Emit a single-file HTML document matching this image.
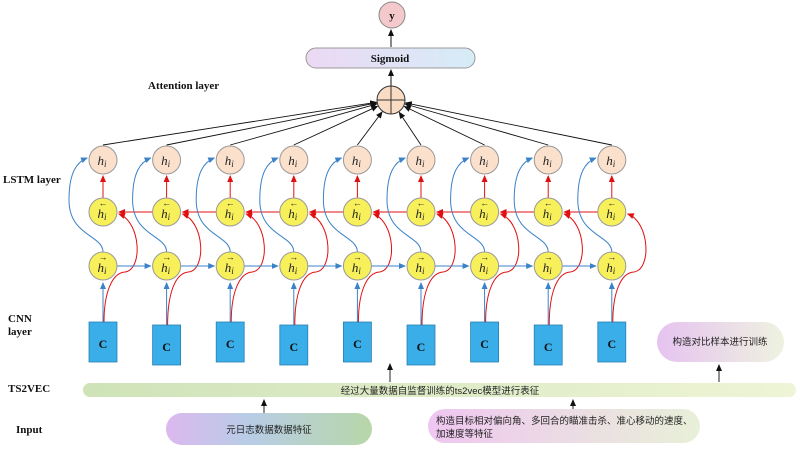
<!DOCTYPE html>
<html><head><meta charset="utf-8"><style>
html,body{margin:0;padding:0;background:#fff;}
svg{display:block;font-family:"Liberation Serif","Noto Serif CJK SC",serif;}
.lbl{font-weight:bold;font-size:11px;fill:#111;}
.it{font-style:italic;font-size:13px;fill:#222;}
.cjk{font-family:"Liberation Sans","Noto Sans CJK SC",sans-serif;font-size:9.5px;fill:#222;}
</style></head><body>
<svg width="800" height="454" viewBox="0 0 800 454" xmlns="http://www.w3.org/2000/svg">
<defs>
<marker id="ab" markerWidth="8" markerHeight="8" refX="6" refY="3" orient="auto" markerUnits="userSpaceOnUse"><path d="M0,0 L7,3 L0,6 z" fill="#3b82c8"/></marker>
<marker id="ar" markerWidth="8" markerHeight="8" refX="6" refY="3" orient="auto" markerUnits="userSpaceOnUse"><path d="M0,0 L7,3 L0,6 z" fill="#e01010"/></marker>
<marker id="ak" markerWidth="8" markerHeight="8" refX="6" refY="3" orient="auto" markerUnits="userSpaceOnUse"><path d="M0,0 L7,3 L0,6 z" fill="#111"/></marker>
<linearGradient id="sg" x1="0" x2="1"><stop offset="0" stop-color="#ecd9f3"/><stop offset="1" stop-color="#d6ecf7"/></linearGradient>
<linearGradient id="bar" x1="0" x2="1"><stop offset="0" stop-color="#cfe3b8"/><stop offset="1" stop-color="#eef4d6"/></linearGradient>
<linearGradient id="p1" x1="0" x2="1"><stop offset="0" stop-color="#dcb8ef"/><stop offset="0.4" stop-color="#b8cce6"/><stop offset="1" stop-color="#b7d7a8"/></linearGradient>
<linearGradient id="p2" x1="0" x2="1"><stop offset="0" stop-color="#efc6f1"/><stop offset="1" stop-color="#e8f0d8"/></linearGradient>
<linearGradient id="p3" x1="0" x2="1"><stop offset="0" stop-color="#e6c3f0"/><stop offset="1" stop-color="#eef2e0"/></linearGradient>
</defs>

<!-- top -->
<circle cx="392" cy="15" r="13" fill="#f4c9cc" stroke="#888" stroke-width="1"/>
<text x="392" y="19" text-anchor="middle" class="lbl">y</text>
<line x1="391" y1="47" x2="391" y2="30" stroke="#111" marker-end="url(#ak)"/>
<rect x="306" y="48" width="169" height="20" rx="10" fill="url(#sg)" stroke="#999"/>
<text x="390" y="62" text-anchor="middle" class="lbl">Sigmoid</text>
<line x1="391" y1="86" x2="391" y2="70" stroke="#111" marker-end="url(#ak)"/>
<circle cx="391" cy="100" r="14" fill="#f9dcc3" stroke="#333"/>
<line x1="377" y1="100" x2="405" y2="100" stroke="#333"/>
<line x1="391" y1="86" x2="391" y2="114" stroke="#333"/>
<text x="148" y="89" class="lbl">Attention layer</text>
<text x="3" y="183" class="lbl">LSTM layer</text>
<text x="8" y="322" class="lbl">CNN</text>
<text x="8" y="335" class="lbl">layer</text>
<text x="8" y="392" class="lbl">TS2VEC</text>
<text x="16" y="433" class="lbl">Input</text>

<g id="cols"></g>

<!-- bottom -->
<rect x="83" y="383" width="713" height="14" rx="7" fill="url(#bar)"/>
<text x="440" y="394" text-anchor="middle" class="cjk">经过大量数据自监督训练的ts2vec模型进行表征</text>
<rect x="657" y="322" width="127" height="40" rx="20" fill="url(#p3)"/>
<text x="720" y="345" text-anchor="middle" class="cjk">构造对比样本进行训练</text>
<line x1="719" y1="382" x2="719" y2="365" stroke="#222" marker-end="url(#ak)"/>
<line x1="390" y1="382" x2="390" y2="364" stroke="#222" marker-end="url(#ak)"/>
<line x1="264" y1="414" x2="264" y2="400" stroke="#222" marker-end="url(#ak)"/>
<line x1="573" y1="412" x2="573" y2="400" stroke="#222" marker-end="url(#ak)"/>
<rect x="166" y="413" width="206" height="32" rx="16" fill="url(#p1)"/>
<text x="269" y="433" text-anchor="middle" class="cjk">元日志数据数据特征</text>
<rect x="428" y="409" width="272" height="34" rx="17" fill="url(#p2)"/>
<text x="436" y="424" class="cjk">构造目标相对偏向角、多回合的瞄准击杀、准心移动的速度、</text>
<text x="436" y="437" class="cjk">加速度等特征</text>
</svg>
<script>
(function(){
var g=document.getElementById('cols');var h='';
var xs=[];for(var i=0;i<9;i++)xs.push(103+i*63.6);
for(var i=0;i<9;i++){var x=xs[i];
 // lines to attention
 var dx=391-x, dy=100-145, L=Math.sqrt(dx*dx+dy*dy);
 h+='<line x1="'+x+'" y1="145" x2="'+(391-dx/L*15)+'" y2="'+(100-dy/L*15)+'" stroke="#111" stroke-width="0.9" marker-end="url(#ak)"/>';
 var by=(i%2)?325:322;
 h+='<rect x="'+(x-14)+'" y="'+by+'" width="28" height="40" fill="#3aaee8" stroke="#2a7fb0" stroke-width="0.8"/>';
 h+='<text x="'+x+'" y="'+(by+26)+'" text-anchor="middle" class="lbl" style="font-size:12px">C</text>';
 // blue up from C
 h+='<line x1="'+x+'" y1="'+by+'" x2="'+x+'" y2="283" stroke="#3b82c8" marker-end="url(#ab)"/>';
 // red curve from C to backward node
 h+='<path d="M'+(x+1)+','+by+' C'+(x+1)+',295 '+(x+8)+',273 '+(x+22)+',272 C'+(x+40)+',270 '+(x+38)+',222 '+(x+16)+',214" fill="none" stroke="#e01010" marker-end="url(#ar)"/>';
 // blue curve forward->h
 h+='<path d="M'+x+',252 C'+x+',235 '+(x-34)+',236 '+(x-34)+',200 C'+(x-34)+',172 '+(x-26)+',162 '+(x-16)+',158" fill="none" stroke="#3b82c8" marker-end="url(#ab)"/>';
 // red up backward->h
 h+='<line x1="'+x+'" y1="198" x2="'+x+'" y2="176" stroke="#e01010" marker-end="url(#ar)"/>';
 if(i<8){
  h+='<line x1="'+(x+14)+'" y1="266" x2="'+(xs[i+1]-16)+'" y2="266" stroke="#3b82c8" marker-end="url(#ab)"/>';
  h+='<line x1="'+(xs[i+1]-14)+'" y1="212" x2="'+(x+16)+'" y2="212" stroke="#e01010" marker-end="url(#ar)"/>';
 }
 h+='<circle cx="'+x+'" cy="160" r="14" fill="#fbe0cc" stroke="#999"/>';
 h+='<text x="'+(x-1)+'" y="165" text-anchor="middle" class="it">h<tspan font-size="9" dy="2">i</tspan></text>';
 h+='<circle cx="'+x+'" cy="212" r="14" fill="#f7f05a" stroke="#999"/>';
 h+='<text x="'+(x-1)+'" y="218" text-anchor="middle" class="it">h<tspan font-size="9" dy="2">i</tspan></text>';
 h+='<text x="'+x+'" y="206" text-anchor="middle" style="font-size:9px;fill:#222">&#8592;</text>';
 h+='<circle cx="'+x+'" cy="266" r="14" fill="#f7f05a" stroke="#999"/>';
 h+='<text x="'+(x-1)+'" y="272" text-anchor="middle" class="it">h<tspan font-size="9" dy="2">i</tspan></text>';
 h+='<text x="'+x+'" y="260" text-anchor="middle" style="font-size:9px;fill:#222">&#8594;</text>';
}
g.innerHTML=h;
})();
</script>
</body></html>
